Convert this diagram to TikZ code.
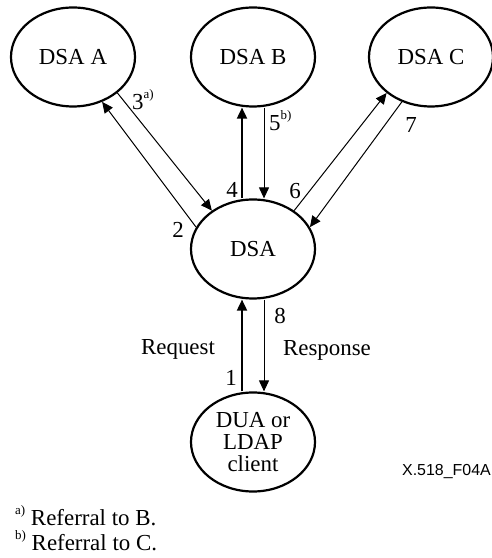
\documentclass[tikz,border=0pt]{standalone}
\usepackage{fontspec}
\setmainfont{Liberation Serif}
\newfontfamily\idfont{Liberation Sans}
\usetikzlibrary{shapes.geometric,arrows.meta}
\newcommand{\fnmark}[1]{\raisebox{11bp}{\fontsize{13}{13}\selectfont #1}}

\begin{document}
\begin{tikzpicture}[x=1bp, y=1bp,
    dsanode/.style={draw, ellipse, line width=2.2bp, minimum width=124bp, minimum height=99bp, inner sep=0pt, align=center},
    thickarrow/.style={line width=1.8bp, -{Triangle[length=11bp,width=10bp]}},
    thinarrow/.style={line width=1bp, -{Triangle[length=11bp,width=10bp]}},
    lbl/.style={inner sep=0pt},
    font=\fontsize{23}{22}\selectfont]
    \useasboundingbox (0,0) rectangle (492,558);

    % Nodos
    \node[dsanode] (dsaa) at (73,501) {DSA A};
    \node[dsanode] (dsab) at (253,501) {DSA B};
    \node[dsanode] (dsac) at (431,501) {DSA C};
    \node[dsanode] (dsa) at (253,309) {DSA};
    \node[dsanode] (dua) at (253,116) {DUA or\\LDAP\\client};

    % Flechas
    \draw[thickarrow] ([xshift=-11bp]dsa.north) -- ([xshift=-11bp]dsab.south);
    \draw[thinarrow] ([xshift=11bp]dsab.south) -- ([xshift=11bp]dsa.north);
    \draw[thickarrow] ([xshift=-11bp]dua.north) -- ([xshift=-11bp]dsa.south);
    \draw[thinarrow] ([xshift=11bp]dsa.south) -- ([xshift=11bp]dua.north);
    \draw[thinarrow] (dsa.159) -- (dsaa.-57);
    \draw[thinarrow] (dsaa.-39) -- (dsa.137);
    \draw[thinarrow] (dsa.43) -- (dsac.219);
    \draw[thinarrow] (dsac.237) -- (dsa.21);

    % Etiquetas
    \node[lbl, anchor=base west] (n3) at (132,448) {3\fnmark{a)}};
    \node[lbl, anchor=base west] (n5) at (269,427) {5\fnmark{b)}};
    \node[lbl] (n7) at (411,433) {7};
    \node[lbl] (n4) at (232,368) {4};
    \node[lbl] (n6) at (295,367) {6};
    \node[lbl] (n2) at (178,328) {2};
    \node[lbl] (n8) at (280,242) {8};
    \node[lbl] (n1) at (231,180) {1};
    \node[lbl] (req) at (178,209) {Request};
    \node[lbl] (resp) at (327,208) {Response};
    \node[lbl, anchor=east, font={\idfont\fontsize{16}{16}\selectfont}] (figid) at (491,86) {X.518\_F04A};

    % Notas
    \node[lbl, anchor=base west] (fna) at (15,32) {\fnmark{a)} Referral to B.};
    \node[lbl, anchor=base west] (fnb) at (15,7) {\fnmark{b)} Referral to C.};
\end{tikzpicture}
\end{document}
